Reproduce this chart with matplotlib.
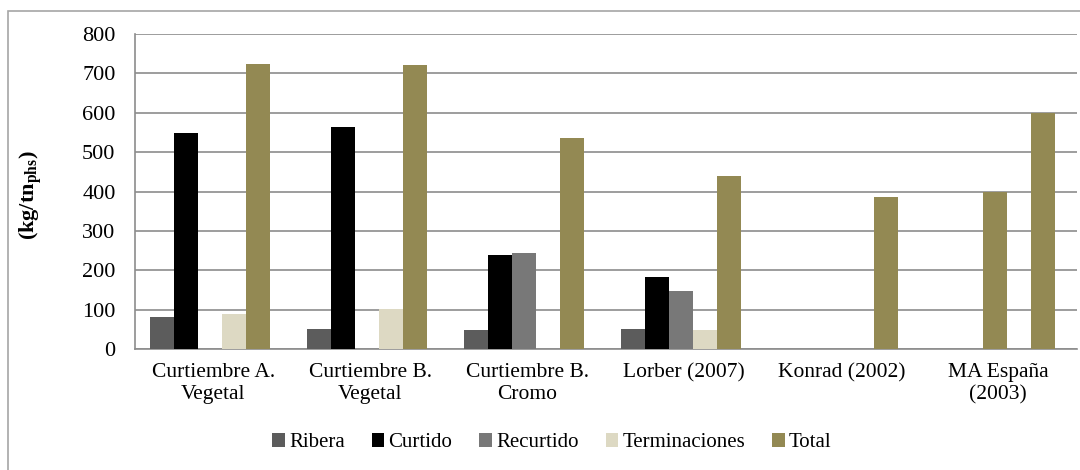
import numpy as np
import matplotlib
matplotlib.use('Agg')
import matplotlib.pyplot as plt
from matplotlib.patches import Rectangle

plt.rcParams['font.family'] = ['Liberation Serif', 'DejaVu Serif']
plt.rcParams['mathtext.fontset'] = 'custom'
plt.rcParams['mathtext.rm'] = 'Liberation Serif'
plt.rcParams['mathtext.bf'] = 'Liberation Serif:bold'

categorias = ['Curtiembre A.\nVegetal', 'Curtiembre B.\nVegetal', 'Curtiembre B.\nCromo',
              'Lorber (2007)', 'Konrad (2002)', 'MA España\n(2003)']
series = ['Ribera', 'Curtido', 'Recurtido', 'Terminaciones', 'Total']

ribera = [82, 52, 48, 52, np.nan, np.nan]
curtido = [548, 564, 240, 182, np.nan, np.nan]
recurtido = [np.nan, np.nan, 244, 147, np.nan, 400]   # MA España: valor mínimo del rango, pintado como Total
terminaciones = [90, 101, np.nan, 48, np.nan, np.nan]
total = [723, 720, 536, 440, 386, 600]

colores = ['#5c5c5c', '#000000', '#787878', '#ddd9c3', '#938953']

fig = plt.figure(figsize=(10.8, 4.7), dpi=100)
ax = fig.add_axes([0.125, 0.2574, 0.872, 0.6703])

# marco exterior gris
fig.patches.append(Rectangle((8 / 1080, -0.05), 1.2, 1 - 11 / 470 + 0.05,
                             transform=fig.transFigure, fill=False,
                             edgecolor='#a6a6a6', linewidth=1.2))

x = np.arange(len(categorias))
w = 0.153
datos = [ribera, curtido, recurtido, terminaciones, total]
for j, (nombre, vals) in enumerate(zip(series, datos)):
    cols = [colores[j]] * len(vals)
    if nombre == 'Recurtido':
        cols[5] = colores[4]
    ax.bar(x + (j - 2) * w - 0.02, vals, width=w, color=cols, label=nombre,
           zorder=3, linewidth=0)

ax.set_xlim(-0.5, len(categorias) - 0.5)
ax.set_ylim(0, 800)
ax.set_yticks(range(0, 801, 100))
ax.yaxis.grid(True, color='#8c8c8c', linewidth=1.2, zorder=0)
ax.set_axisbelow(True)
for s in ['top', 'right']:
    ax.spines[s].set_visible(False)
ax.spines['left'].set_color('#8c8c8c')
ax.spines['bottom'].set_color('#8c8c8c')
ax.spines['left'].set_linewidth(1.2)
ax.spines['bottom'].set_linewidth(1.2)
ax.tick_params(length=0)
ax.tick_params(axis='y', labelsize=16, pad=14)
ax.tick_params(axis='x', labelsize=15.5, pad=10)
ax.set_xticks(x)
ax.set_xticklabels(categorias, linespacing=1.2)

fig.text(0.029, 0.585, r'(kg/tn$_{\mathbf{phs}}$)', rotation=90, fontsize=16,
         fontweight='bold', ha='center', va='center')

handles, labels = ax.get_legend_handles_labels()
fig.legend(handles, labels, loc='center', bbox_to_anchor=(0.511, 0.058), ncol=5,
           frameon=False, fontsize=15, handlelength=0.6, handleheight=0.6,
           handletextpad=0.2, columnspacing=1.3)

fig.savefig('out.png', dpi=100)
